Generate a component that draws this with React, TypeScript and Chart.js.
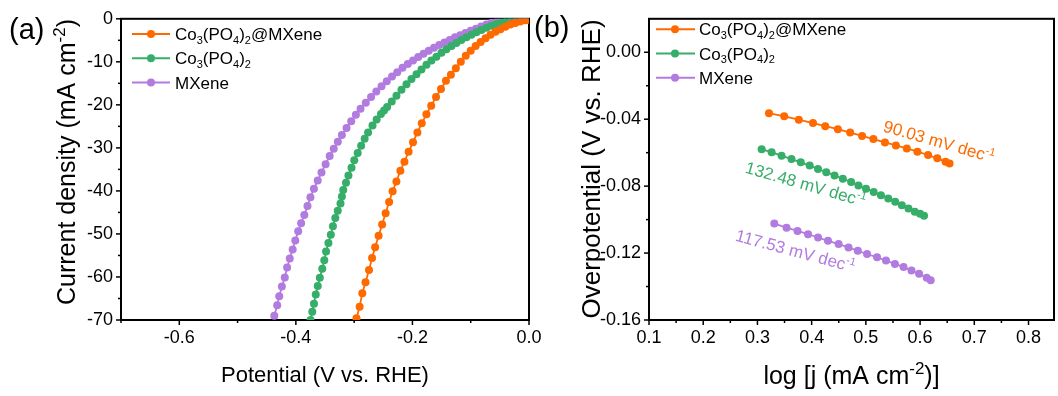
import React, { useEffect, useRef } from "react";
import { Chart, registerables } from "chart.js";

Chart.register(...registerables);

// ---------------- Panel (a): LSV polarization curves ----------------
const POT_ORANGE = [-0.296, -0.2906, -0.286, -0.2805, -0.2745, -0.2693, -0.264, -0.258, -0.252, -0.246, -0.24, -0.234, -0.2275, -0.2207, -0.2137, -0.2065, -0.199, -0.1915, -0.184, -0.176, -0.1678, -0.1595, -0.151, -0.1425, -0.134, -0.1255, -0.117, -0.1085, -0.1, -0.0915, -0.083, -0.0745, -0.066, -0.0575, -0.049, -0.0405, -0.032, -0.0235, -0.015, -0.0065, -0.001];
const J_ORANGE = [-69.6, -66.9, -63.8, -61.2, -58.4, -55.6, -53.1, -50.4, -47.8, -45.2, -42.6, -40.1, -37.8, -35.3, -33.2, -30.9, -28.7, -26.4, -24.3, -22.2, -20.2, -18.2, -16.3, -14.4, -13.0, -11.5, -10.0, -8.6, -7.4, -6.3, -5.4, -4.5, -3.7, -3.0, -2.4, -1.85, -1.35, -0.95, -0.65, -0.35, -0.2];

const POT_GREEN = [-0.3748, -0.3718, -0.3689, -0.3659, -0.3624, -0.3589, -0.3547, -0.3512, -0.3482, -0.3441, -0.34, -0.3364, -0.3323, -0.3281, -0.3234, -0.321, -0.3187, -0.314, -0.3098, -0.3045, -0.2998, -0.2939, -0.288, -0.282, -0.2761, -0.2685, -0.2614, -0.254, -0.2487, -0.2434, -0.2355, -0.2274, -0.2188, -0.2102, -0.2016, -0.193, -0.1845, -0.1759, -0.1674, -0.1588, -0.1502, -0.1416, -0.133, -0.1245, -0.116, -0.1073, -0.0988, -0.0902, -0.0816, -0.073, -0.0645, -0.0559, -0.0473, -0.0387, -0.03, -0.0216, -0.013, -0.0045];
const J_GREEN = [-70.0, -68.1, -66.2, -64.1, -62.1, -60.2, -58.1, -56.1, -54.1, -52.1, -50.2, -48.2, -46.3, -44.6, -42.9, -41.3, -39.8, -38.1, -36.4, -34.6, -32.9, -31.2, -29.5, -27.9, -26.4, -24.8, -23.4, -22.1, -21.3, -20.5, -19.2, -17.9, -16.5, -15.2, -14.0, -12.9, -11.8, -10.7, -9.7, -8.8, -7.9, -7.1, -6.3, -5.6, -4.9, -4.3, -3.7, -3.1, -2.6, -2.1, -1.6, -1.2, -0.9, -0.6, -0.4, -0.25, -0.15, -0.08];

const POT_PURPLE = [-0.437, -0.432, -0.4285, -0.424, -0.419, -0.415, -0.4105, -0.4055, -0.401, -0.396, -0.391, -0.3855, -0.38, -0.375, -0.369, -0.3625, -0.356, -0.349, -0.342, -0.335, -0.328, -0.321, -0.313, -0.305, -0.297, -0.289, -0.28, -0.271, -0.262, -0.253, -0.244, -0.235, -0.226, -0.217, -0.208, -0.199, -0.19, -0.181, -0.172, -0.163, -0.154, -0.145, -0.136, -0.127, -0.118, -0.109, -0.1, -0.091, -0.082, -0.073, -0.064, -0.055, -0.046, -0.037, -0.028, -0.019, -0.01, -0.001];
const J_PURPLE = [-69.0, -66.6, -64.5, -62.2, -60.1, -57.8, -55.7, -53.6, -51.5, -49.4, -47.5, -45.6, -43.5, -41.5, -39.5, -37.6, -35.7, -33.8, -31.9, -30.2, -28.6, -27.0, -25.4, -23.8, -22.3, -20.9, -19.5, -18.2, -16.9, -15.7, -14.5, -13.4, -12.4, -11.4, -10.5, -9.7, -8.9, -8.1, -7.4, -6.7, -6.1, -5.5, -4.9, -4.3, -3.8, -3.3, -2.8, -2.3, -1.8, -1.3, -0.9, -0.6, -0.4, -0.25, -0.15, -0.08, -0.04, 0];

const A_X_MAJOR = [-0.6, -0.4, -0.2, 0.0];
const A_X_MINOR = [-0.7, -0.5, -0.3, -0.1];
const A_Y_MAJOR = [0, -10, -20, -30, -40, -50, -60, -70];
const A_Y_MINOR = [-5, -15, -25, -35, -45, -55, -65];

// ---------------- Panel (b): Tafel plots ----------------
const LOGJ_ORANGE = [0.3213, 0.3494, 0.3763, 0.4025, 0.4251, 0.4484, 0.471, 0.493, 0.5139, 0.5352, 0.5554, 0.5755, 0.5951, 0.6147, 0.6318, 0.647, 0.6544];
const ETA_ORANGE = [-0.0364, -0.0383, -0.0403, -0.0423, -0.0442, -0.046, -0.048, -0.05, -0.0519, -0.0539, -0.0557, -0.0575, -0.0594, -0.0614, -0.0634, -0.0654, -0.0664];

const LOGJ_GREEN = [0.3078, 0.3262, 0.3445, 0.3628, 0.3799, 0.3964, 0.4117, 0.427, 0.4422, 0.4575, 0.4728, 0.4863, 0.5003, 0.5144, 0.5278, 0.5413, 0.5541, 0.5664, 0.5786, 0.5902, 0.6, 0.6073];
const ETA_GREEN = [-0.0579, -0.0598, -0.0618, -0.0638, -0.0658, -0.0677, -0.0697, -0.0717, -0.0736, -0.0756, -0.0776, -0.0796, -0.0815, -0.0835, -0.0855, -0.0874, -0.0894, -0.0914, -0.0934, -0.0953, -0.0965, -0.0977];

const LOGJ_PURPLE = [0.3311, 0.3537, 0.3739, 0.3934, 0.4118, 0.4301, 0.4497, 0.468, 0.4851, 0.5022, 0.5206, 0.5371, 0.5536, 0.5695, 0.5841, 0.5982, 0.6122, 0.6196];
const ETA_PURPLE = [-0.1024, -0.1048, -0.1068, -0.1087, -0.1107, -0.1127, -0.1146, -0.1166, -0.1186, -0.1206, -0.1225, -0.1245, -0.1265, -0.1284, -0.1304, -0.1324, -0.1348, -0.1363];

const B_X_MAJOR = [0.1, 0.2, 0.3, 0.4, 0.5, 0.6, 0.7, 0.8];
const B_X_MINOR = [0.15, 0.25, 0.35, 0.45, 0.55, 0.65, 0.75];
const B_Y_MAJOR = [0, -0.04, -0.08, -0.12, -0.16];
const B_Y_MINOR = [-0.02, -0.06, -0.1, -0.14];

const TAFEL_SLOPES = ["90.03", "132.48", "117.53"];

// ---------------- styling ----------------
const FONT = "'Liberation Sans', Arial, Helvetica, sans-serif";
const COLORS = ["#FF6A00", "#36AE6A", "#B27BE0"];

type Seg = { t: string; s?: "sub" | "sup" };

const SERIES_LABELS: Seg[][] = [
  [{ t: "Co" }, { t: "3", s: "sub" }, { t: "(PO" }, { t: "4", s: "sub" }, { t: ")" }, { t: "2", s: "sub" }, { t: "@MXene" }],
  [{ t: "Co" }, { t: "3", s: "sub" }, { t: "(PO" }, { t: "4", s: "sub" }, { t: ")" }, { t: "2", s: "sub" }],
  [{ t: "MXene" }],
];
const SERIES_NAMES = ["Co₃(PO₄)₂@MXene", "Co₃(PO₄)₂", "MXene"];

function segFont(size: number, s?: string) {
  return `${s ? Math.round(size * 0.66) : size}px ${FONT}`;
}
function richWidth(ctx: CanvasRenderingContext2D, segs: Seg[], size: number) {
  let w = 0;
  for (const g of segs) {
    ctx.font = segFont(size, g.s);
    w += ctx.measureText(g.t).width;
  }
  return w;
}
function drawRich(ctx: CanvasRenderingContext2D, segs: Seg[], x: number, y: number, size: number, align: "left" | "center", color: string) {
  ctx.fillStyle = color;
  ctx.textBaseline = "alphabetic";
  ctx.textAlign = "left";
  let cx = align === "center" ? x - richWidth(ctx, segs, size) / 2 : x;
  for (const g of segs) {
    ctx.font = segFont(size, g.s);
    const dy = g.s === "sub" ? size * 0.22 : g.s === "sup" ? -size * 0.4 : 0;
    ctx.fillText(g.t, cx, y + dy);
    cx += ctx.measureText(g.t).width;
  }
}

type Note = { segs: Seg[]; x: number; y: number; angle: number; color: string };
type Spec = {
  xMinor: number[];
  yMinor: number[];
  xTitle: Seg[];
  xTitleSize: number;
  xTitleBase: number;
  yTitle: Seg[];
  yTitleSize: number;
  yTitleBaseX: number;
  yTitleCenterY: number;
  panel: string;
  panelX: number;
  panelBase: number;
  legX0: number;
  legX1: number;
  legMarker: number;
  legText: number;
  legRows: number[];
  notes: Note[];
};

function makeDecor(spec: Spec) {
  return {
    id: "decor",
    beforeDatasetsDraw(chart: any) {
      const { ctx, chartArea: ca, scales } = chart;
      const xs = scales.x;
      const ys = scales.y;
      ctx.save();
      ctx.strokeStyle = "#000";
      ctx.lineWidth = 1.5;
      const tick = (px: number, py: number, dx: number, dy: number) => {
        ctx.beginPath();
        ctx.moveTo(px, py);
        ctx.lineTo(px + dx, py + dy);
        ctx.stroke();
      };
      xs.ticks.forEach((t: any) => tick(xs.getPixelForValue(t.value), ca.bottom, 0, 5));
      spec.xMinor.forEach((v) => tick(xs.getPixelForValue(v), ca.bottom, 0, 3));
      ys.ticks.forEach((t: any) => tick(ca.left, ys.getPixelForValue(t.value), -5, 0));
      spec.yMinor.forEach((v) => tick(ca.left, ys.getPixelForValue(v), -3, 0));
      ctx.lineWidth = 2;
      ctx.strokeRect(ca.left, ca.top, ca.right - ca.left, ca.bottom - ca.top);
      ctx.restore();
    },
    afterDraw(chart: any) {
      const { ctx, chartArea: ca, scales } = chart;
      ctx.save();
      // axis titles
      drawRich(ctx, spec.xTitle, (ca.left + ca.right) / 2, spec.xTitleBase, spec.xTitleSize, "center", "#000");
      ctx.save();
      ctx.translate(spec.yTitleBaseX, spec.yTitleCenterY);
      ctx.rotate(-Math.PI / 2);
      drawRich(ctx, spec.yTitle, 0, 0, spec.yTitleSize, "center", "#000");
      ctx.restore();
      // panel label
      drawRich(ctx, [{ t: spec.panel }], spec.panelX, spec.panelBase, 29, "left", "#000");
      // legend
      spec.legRows.forEach((ry, i) => {
        const c = COLORS[i];
        ctx.strokeStyle = c;
        ctx.lineWidth = 2;
        ctx.beginPath();
        ctx.moveTo(spec.legX0, ry);
        ctx.lineTo(spec.legX1, ry);
        ctx.stroke();
        ctx.fillStyle = c;
        ctx.beginPath();
        ctx.arc(spec.legMarker, ry, 4, 0, Math.PI * 2);
        ctx.fill();
        drawRich(ctx, SERIES_LABELS[i], spec.legText, ry + 6, 17, "left", "#000");
      });
      // rotated annotations
      spec.notes.forEach((n) => {
        const px = scales.x.getPixelForValue(n.x);
        const py = scales.y.getPixelForValue(n.y);
        ctx.save();
        ctx.translate(px, py);
        ctx.rotate((n.angle * Math.PI) / 180);
        drawRich(ctx, n.segs, 0, 6, 17, "center", n.color);
        ctx.restore();
      });
      ctx.restore();
    },
  };
}

function series(xs: number[], ys: number[], i: number) {
  return {
    label: SERIES_NAMES[i],
    data: xs.map((x, k) => ({ x, y: ys[k] })),
    showLine: true,
    borderColor: COLORS[i],
    backgroundColor: COLORS[i],
    borderWidth: 1.8,
    pointRadius: 4,
    pointBorderWidth: 0,
    pointBackgroundColor: COLORS[i],
    tension: 0,
  };
}

function axis(min: number, max: number, major: number[], fmt: (v: number) => string, fitKey: "width" | "height", fitVal: number, pad: number) {
  return {
    type: "linear" as const,
    min,
    max,
    afterBuildTicks: (s: any) => {
      s.ticks = major.map((v) => ({ value: v }));
    },
    afterFit: (s: any) => {
      s[fitKey] = fitVal;
    },
    grid: { display: false, drawTicks: false },
    border: { display: false },
    ticks: {
      autoSkip: false,
      maxRotation: 0,
      padding: pad,
      color: "#000",
      font: { family: FONT, size: 18 },
      callback: (v: any) => fmt(Number(v)),
    },
  };
}

const titleCurrent: Seg[] = [{ t: "Current density (mA cm" }, { t: "-2", s: "sup" }, { t: ")" }];
const titlePotential: Seg[] = [{ t: "Potential (V vs. RHE)" }];
const titleOver: Seg[] = [{ t: "Overpotential (V vs. RHE)" }];
const titleLogJ: Seg[] = [{ t: "log [j (mA cm" }, { t: "-2", s: "sup" }, { t: ")]" }];

function noteSegs(slope: string): Seg[] {
  return [{ t: `${slope} mV dec` }, { t: "-1", s: "sup" }];
}

function buildA(): any {
  const spec: Spec = {
    xMinor: A_X_MINOR,
    yMinor: A_Y_MINOR,
    xTitle: titlePotential,
    xTitleSize: 22,
    xTitleBase: 382,
    yTitle: titleCurrent,
    yTitleSize: 25,
    yTitleBaseX: 75,
    yTitleCenterY: 162,
    panel: "(a)",
    panelX: 9,
    panelBase: 39,
    legX0: 132,
    legX1: 170,
    legMarker: 151,
    legText: 175,
    legRows: [34, 58.3, 82.6],
    notes: [],
  };
  return {
    type: "scatter",
    data: {
      datasets: [series(POT_ORANGE, J_ORANGE, 0), series(POT_GREEN, J_GREEN, 1), series(POT_PURPLE, J_PURPLE, 2)],
    },
    options: {
      responsive: false,
      animation: false,
      devicePixelRatio: 1,
      layout: { padding: { top: 16, right: 1058 - 529, bottom: 0, left: 0 } },
      plugins: { legend: { display: false }, tooltip: { enabled: false } },
      scales: {
        x: axis(-0.7, 0, A_X_MAJOR, (v) => v.toFixed(1), "height", 76, 7),
        y: axis(-70, 0, A_Y_MAJOR, (v) => String(Math.round(v)), "width", 121, 8),
      },
    },
    plugins: [makeDecor(spec)],
  };
}

function buildB(): any {
  const spec: Spec = {
    xMinor: B_X_MINOR,
    yMinor: B_Y_MINOR,
    xTitle: titleLogJ,
    xTitleSize: 25,
    xTitleBase: 384,
    yTitle: titleOver,
    yTitleSize: 26,
    yTitleBaseX: 600,
    yTitleCenterY: 169,
    panel: "(b)",
    panelX: 534,
    panelBase: 37,
    legX0: 656,
    legX1: 695,
    legMarker: 675,
    legText: 699,
    legRows: [29.3, 53.5, 77.7],
    notes: [
      { segs: noteSegs(TAFEL_SLOPES[0]), x: 0.635, y: -0.0532, angle: 16, color: COLORS[0] },
      { segs: noteSegs(TAFEL_SLOPES[1]), x: 0.389, y: -0.0787, angle: 16, color: COLORS[1] },
      { segs: noteSegs(TAFEL_SLOPES[2]), x: 0.37, y: -0.1186, angle: 15, color: COLORS[2] },
    ],
  };
  return {
    type: "scatter",
    data: {
      datasets: [series(LOGJ_ORANGE, ETA_ORANGE, 0), series(LOGJ_GREEN, ETA_GREEN, 1), series(LOGJ_PURPLE, ETA_PURPLE, 2)],
    },
    options: {
      responsive: false,
      animation: false,
      devicePixelRatio: 1,
      layout: { padding: { top: 16, right: 1, bottom: 0, left: 0 } },
      plugins: { legend: { display: false }, tooltip: { enabled: false } },
      scales: {
        x: axis(0.1, 0.847, B_X_MAJOR, (v) => v.toFixed(1), "height", 76, 7),
        y: axis(-0.16, 0.02, B_Y_MAJOR, (v) => (Math.abs(v) < 1e-9 ? "0.00" : v.toFixed(2)), "width", 649, 8),
      },
    },
    plugins: [makeDecor(spec)],
  };
}

export default function App() {
  const refA = useRef<HTMLCanvasElement>(null);
  const refB = useRef<HTMLCanvasElement>(null);
  useEffect(() => {
    const a = new Chart(refA.current as HTMLCanvasElement, buildA());
    const b = new Chart(refB.current as HTMLCanvasElement, buildB());
    return () => {
      a.destroy();
      b.destroy();
    };
  }, []);
  const cs: React.CSSProperties = { position: "absolute", left: 0, top: 0, width: 1058, height: 396 };
  return (
    <div style={{ position: "absolute", left: 0, top: 0, width: 1058, height: 396, background: "#fff" }}>
      <canvas ref={refA} width={1058} height={396} style={cs} />
      <canvas ref={refB} width={1058} height={396} style={cs} />
    </div>
  );
}
